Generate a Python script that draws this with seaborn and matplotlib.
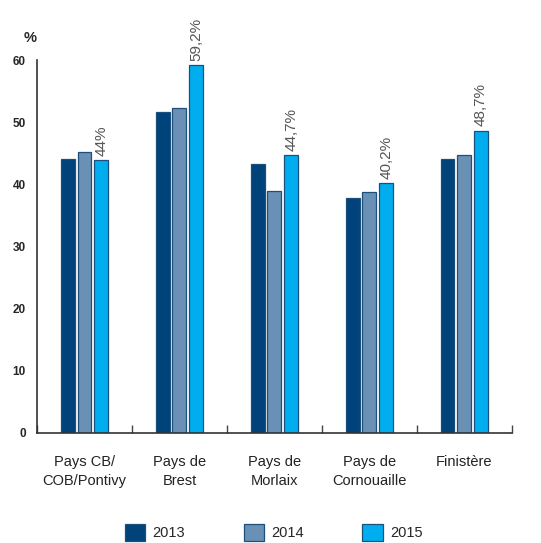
import matplotlib
matplotlib.use("Agg")
import matplotlib.pyplot as plt
import seaborn as sns
import pandas as pd

# values
regions = ["Pays CB/\nCOB/Pontivy", "Pays de\nBrest", "Pays de\nMorlaix",
           "Pays de\nCornouaille", "Finistère"]
years = ["2013", "2014", "2015"]
v2013 = [44.1, 51.7, 43.3, 37.8, 44.2]
v2014 = [45.3, 52.4, 38.9, 38.8, 44.7]
v2015 = [44.0, 59.2, 44.7, 40.2, 48.7]
yticks = [0, 10, 20, 30, 40, 50, 60]

colors = ["#00437a", "#6a91b5", "#00aeef"]
edge = "#1d4f7c"

df = pd.DataFrame({
    "region": regions * 3,
    "year": [y for y in years for _ in regions],
    "value": v2013 + v2014 + v2015,
})

sns.set_theme(style="white")
plt.rcParams["font.family"] = ["Liberation Sans", "DejaVu Sans"]

fig = plt.figure(figsize=(5.41, 5.43), dpi=100)
ax = fig.add_axes([0.0684, 0.2026, 0.8776, 0.686])

sns.barplot(data=df, x="region", y="value", hue="year", palette=colors,
            saturation=1, width=0.53, gap=0.17, edgecolor=edge, linewidth=0.9,
            order=regions, hue_order=years, ax=ax)

handles, labels = ax.get_legend_handles_labels()
ax.get_legend().remove()

# rotated value labels on the 2015 bars
lbls = [f"{v:g}".replace(".", ",") + "%" for v in v2015]
ax.bar_label(ax.containers[2], labels=lbls, rotation=90, padding=3,
             fontsize=11, color="#555555")

ax.set_xlim(-0.5, 4.5)
ax.set_ylim(0, 60)
ax.set_yticks(yticks)
ax.set_yticklabels([str(t) for t in yticks], fontsize=8.5, fontweight="bold")
ax.tick_params(axis="y", length=0, pad=8)
ax.set_xticks(range(len(regions)))
ax.set_xticklabels(regions, fontsize=10.5, color="#222222", linespacing=1.4)
ax.tick_params(axis="x", which="major", length=0, pad=16)
ax.set_xticks([i - 0.5 for i in range(len(regions) + 1)], minor=True)
ax.tick_params(axis="x", which="minor", direction="in", length=6,
               width=1, color="#444444", bottom=True)
ax.set_xlabel("")
ax.set_ylabel("")

for s in ["top", "right"]:
    ax.spines[s].set_visible(False)
for s in ["left", "bottom"]:
    ax.spines[s].set_color("#333333")
    ax.spines[s].set_linewidth(1.2)

fig.text(0.043, 0.93, "%", fontsize=10.5, fontweight="bold", ha="left", va="center")

fig.legend(handles, labels, loc="center", bbox_to_anchor=(0.506, 0.02),
           ncol=3, frameon=False, fontsize=10.5, handlelength=1.4,
           handleheight=1.4, columnspacing=4.0, handletextpad=0.5)

fig.savefig("out.png", dpi=100)
